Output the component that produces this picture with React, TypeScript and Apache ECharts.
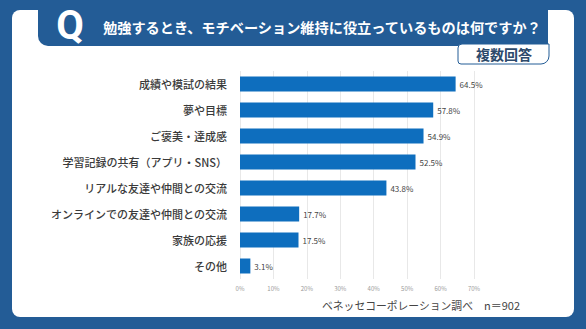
import React, { useEffect, useRef } from "react";
import * as echarts from "echarts";

const categories = [
  "成績や模試の結果",
  "夢や目標",
  "ご褒美・達成感",
  "学習記録の共有（アプリ・SNS）",
  "リアルな友達や仲間との交流",
  "オンラインでの友達や仲間との交流",
  "家族の応援",
  "その他",
];
const values = [64.5, 57.8, 54.9, 52.5, 43.8, 17.7, 17.5, 3.1];
const xTicks = [0, 10, 20, 30, 40, 50, 60, 70];

const titleText = "勉強するとき、モチベーション維持に役立っているものは何ですか？";
const badgeText = "複数回答";
const sourceText = "ベネッセコーポレーション調べ";
const nText = "n＝902";

const FONT = "'Noto Sans CJK JP', 'Noto Sans', sans-serif";
const DARK = "#235c96";
const BAR = "#0e6ebe";

export default function App() {
  const ref = useRef<HTMLDivElement>(null);
  useEffect(() => {
    document.body.style.margin = "0";
    const chart = echarts.init(ref.current!, null, { renderer: "svg" });
    chart.setOption({
      animation: false,
      backgroundColor: DARK,
      textStyle: { fontFamily: FONT },
      graphic: [
        {
          type: "rect",
          z: -10,
          shape: { x: 12, y: 10, width: 562, height: 307, r: 8 },
          style: { fill: "#ffffff" },
          silent: true,
        },
        {
          type: "rect",
          z: -5,
          shape: { x: 38, y: -10, width: 510, height: 56, r: [0, 0, 0, 10] },
          style: { fill: DARK },
          silent: true,
        },
        {
          type: "rect",
          z: -4,
          shape: { x: 458, y: 44, width: 91, height: 20, r: [4, 0, 8, 3] },
          style: { fill: "#ffffff", stroke: DARK, lineWidth: 1 },
          silent: true,
        },
        {
          type: "text",
          x: 70,
          y: 25,
          style: {
            text: "Q",
            fill: "#ffffff",
            font: "bold 40px Roboto, 'Noto Sans', sans-serif",
            align: "center",
            verticalAlign: "middle",
          },
        },
        {
          type: "text",
          x: 103,
          y: 27,
          style: {
            text: titleText,
            fill: "#ffffff",
            font: `bold 14.2px ${FONT}`,
            align: "left",
            verticalAlign: "middle",
          },
        },
        {
          type: "text",
          x: 504,
          y: 54,
          style: {
            text: badgeText,
            fill: "#2d4a6b",
            font: `bold 14px ${FONT}`,
            align: "center",
            verticalAlign: "middle",
          },
        },
        {
          type: "text",
          x: 322,
          y: 305,
          style: {
            text: sourceText,
            fill: "#444444",
            font: `10.8px ${FONT}`,
            align: "left",
            verticalAlign: "middle",
          },
        },
        {
          type: "text",
          x: 484,
          y: 305,
          style: {
            text: nText,
            fill: "#444444",
            font: `11px ${FONT}`,
            align: "left",
            verticalAlign: "middle",
          },
        },
      ],
      grid: { left: 240, right: 112, top: 71, bottom: 50, containLabel: false },
      xAxis: {
        type: "value",
        min: 0,
        max: xTicks[xTicks.length - 1],
        interval: 10,
        axisLine: { show: false },
        axisTick: { show: false },
        splitLine: { show: true, lineStyle: { color: "#e8e8e8", width: 1 } },
        axisLabel: {
          formatter: "{value}%",
          fontSize: 6,
          color: "#9a9a9a",
          margin: 6,
          fontFamily: FONT,
        },
      },
      yAxis: {
        type: "category",
        inverse: true,
        data: categories,
        axisLine: { show: false },
        axisTick: { show: false },
        axisLabel: {
          fontSize: 11,
          fontWeight: 500,
          color: "#3a3a3a",
          margin: 13,
          fontFamily: FONT,
        },
      },
      series: [
        {
          type: "bar",
          data: values,
          barWidth: 15,
          itemStyle: { color: BAR },
          label: {
            show: true,
            position: "right",
            distance: 4,
            formatter: "{c}%",
            fontSize: 8,
            color: "#444444",
            fontFamily: FONT,
          },
        },
      ],
    });
    return () => chart.dispose();
  }, []);
  return (
    <div
      ref={ref}
      style={{ position: "absolute", left: 0, top: 0, width: 586, height: 329 }}
    />
  );
}
